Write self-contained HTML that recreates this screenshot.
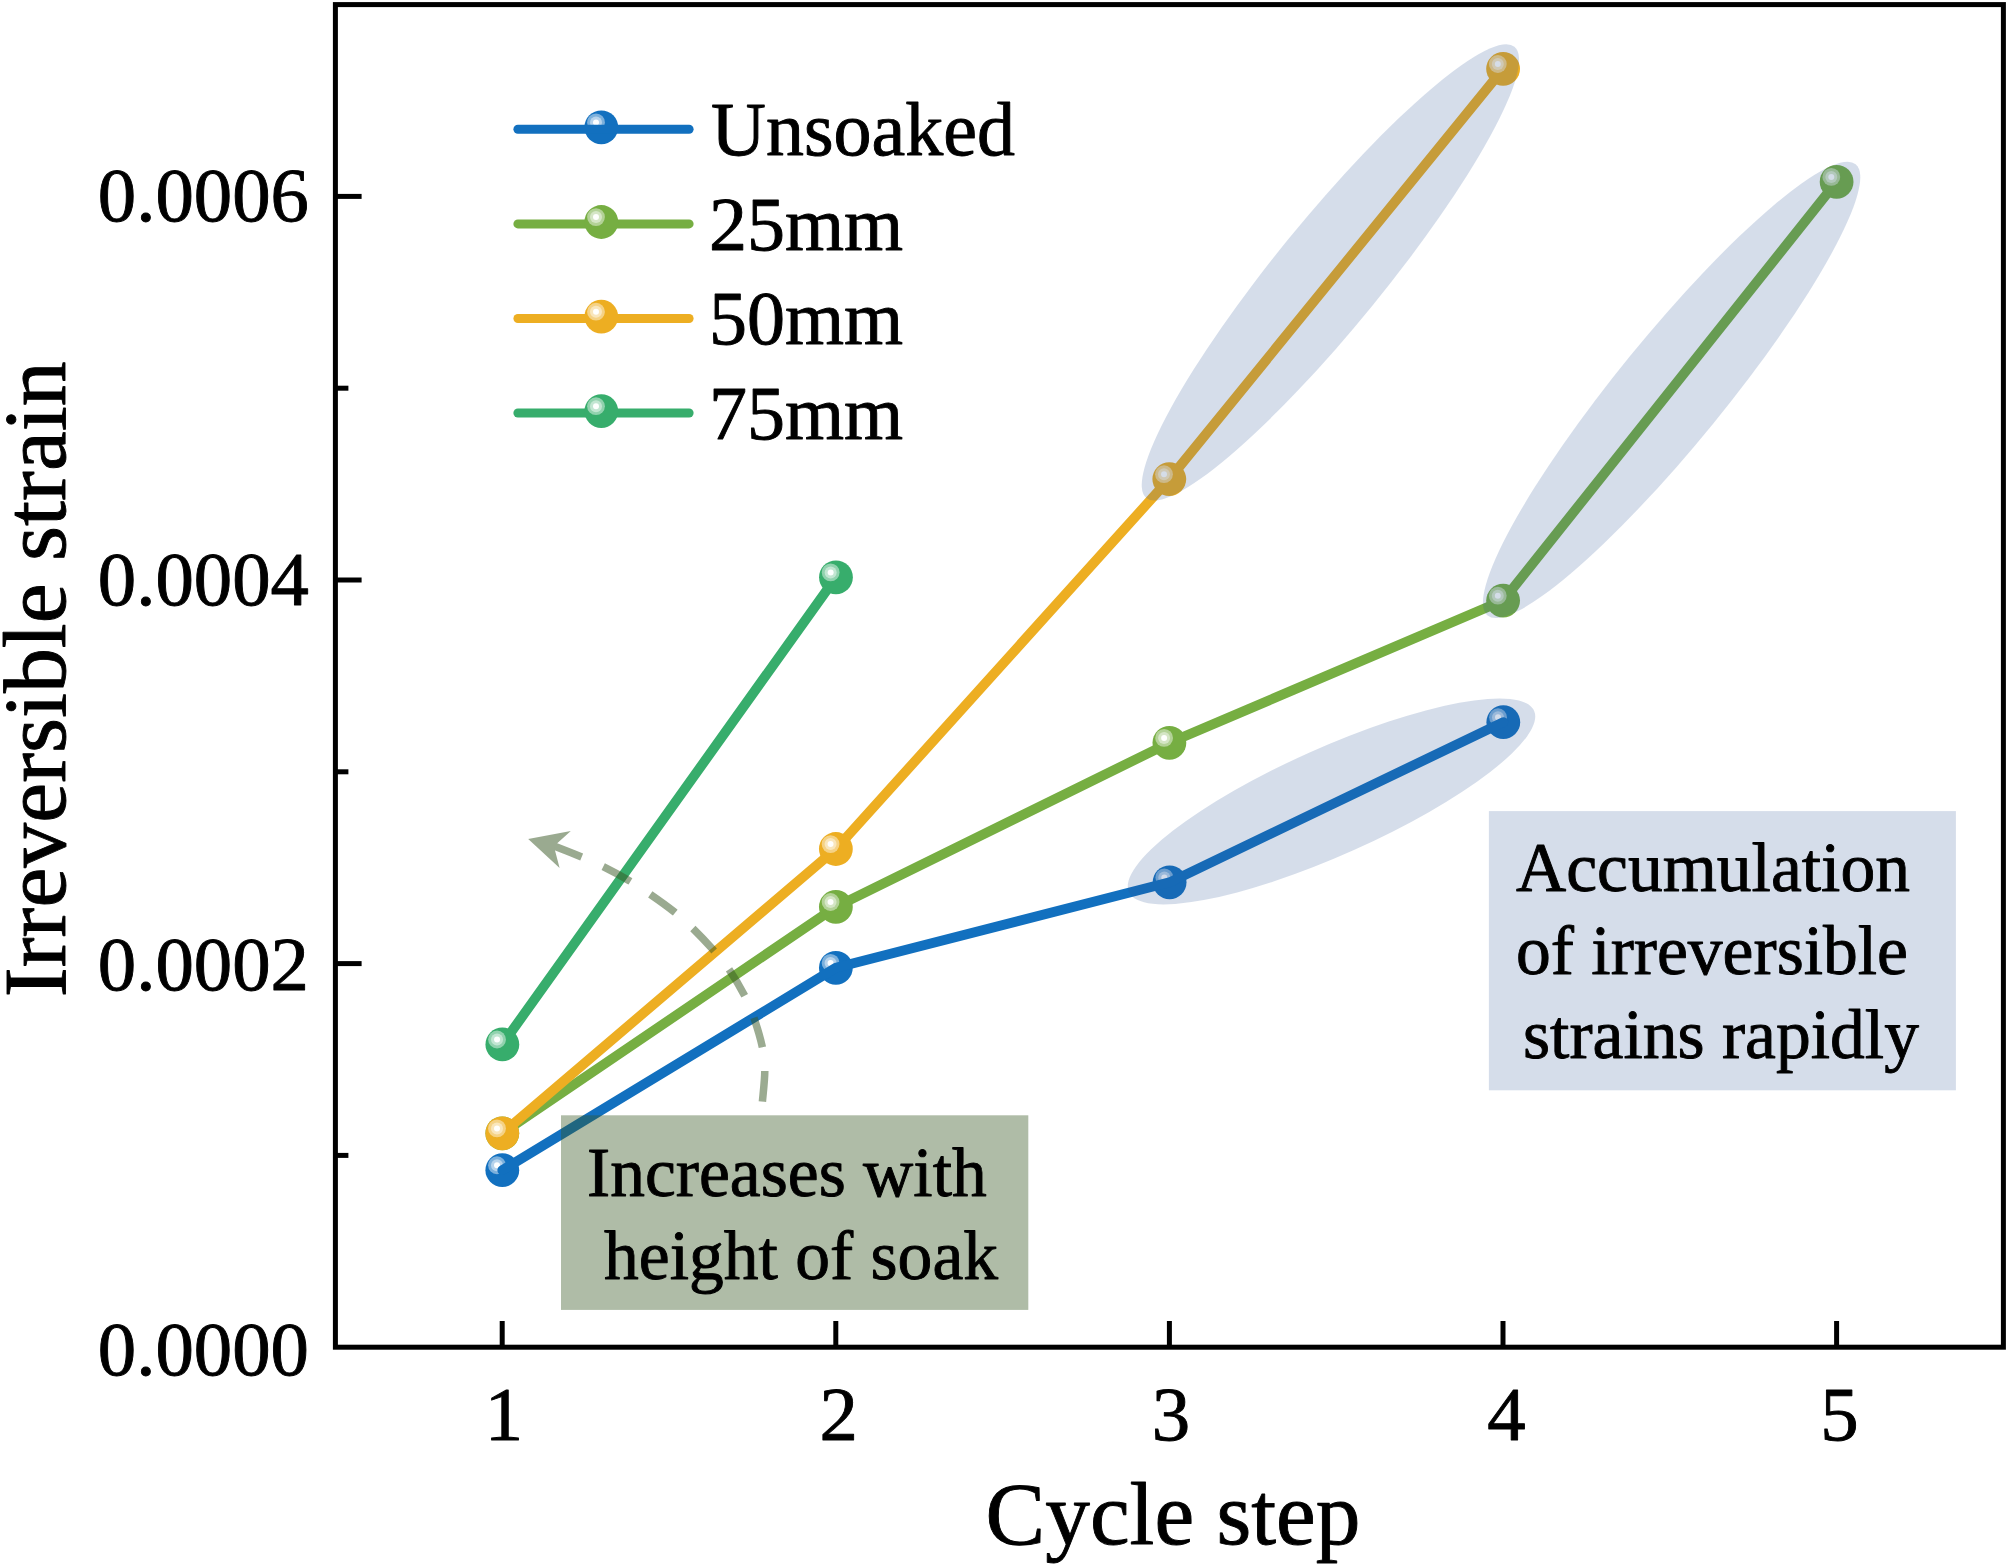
<!DOCTYPE html>
<html lang="en"><head><meta charset="utf-8"><title>Irreversible strain vs cycle step</title>
<style>html,body{margin:0;padding:0;background:#fff;}body{width:2008px;height:1565px;overflow:hidden;}svg{display:block;}text{font-family:"Liberation Serif", serif;fill:#000;stroke:#000;stroke-width:0.9px;stroke-linejoin:round;}</style></head><body>
<svg width="2008" height="1565" viewBox="0 0 2008 1565">
<rect x="0" y="0" width="2008" height="1565" fill="#fff"/>
<g id="series">
<circle cx="502.3" cy="1170.15" r="16.9" fill="#1270bf"/><circle cx="497" cy="1165.25" r="8.9" fill="#fff" fill-opacity="0.45"/><circle cx="497" cy="1165.25" r="6" fill="#fff" fill-opacity="0.45"/><circle cx="497" cy="1165.25" r="3" fill="#fff" fill-opacity="0.97"/>
<circle cx="835.87" cy="967.8" r="16.9" fill="#1270bf"/><circle cx="830.57" cy="962.9" r="8.9" fill="#fff" fill-opacity="0.45"/><circle cx="830.57" cy="962.9" r="6" fill="#fff" fill-opacity="0.45"/><circle cx="830.57" cy="962.9" r="3" fill="#fff" fill-opacity="0.97"/>
<circle cx="1169.6" cy="882.3" r="16.9" fill="#1270bf"/><circle cx="1164.3" cy="877.4" r="8.9" fill="#fff" fill-opacity="0.45"/><circle cx="1164.3" cy="877.4" r="6" fill="#fff" fill-opacity="0.45"/><circle cx="1164.3" cy="877.4" r="3" fill="#fff" fill-opacity="0.97"/>
<circle cx="1503.3" cy="722.15" r="16.9" fill="#1270bf"/><circle cx="1498" cy="717.25" r="8.9" fill="#fff" fill-opacity="0.45"/><circle cx="1498" cy="717.25" r="6" fill="#fff" fill-opacity="0.45"/><circle cx="1498" cy="717.25" r="3" fill="#fff" fill-opacity="0.97"/>
<polyline points="502.3,1170.15 835.87,967.8 1169.6,882.3 1503.3,722.15" fill="none" stroke="#1270bf" stroke-width="9.8" stroke-linecap="round" stroke-linejoin="round"/>
<polyline points="502.3,1133.3 835.87,906.9 1169.4,742.8 1503.1,600.6 1836.6,181.8" fill="none" stroke="#76ae42" stroke-width="9.8" stroke-linecap="round" stroke-linejoin="round"/>
<circle cx="502.3" cy="1133.3" r="16.9" fill="#76ae42"/><circle cx="497" cy="1128.4" r="8.9" fill="#fff" fill-opacity="0.45"/><circle cx="497" cy="1128.4" r="6" fill="#fff" fill-opacity="0.45"/><circle cx="497" cy="1128.4" r="3" fill="#fff" fill-opacity="0.97"/>
<circle cx="835.87" cy="906.9" r="16.9" fill="#76ae42"/><circle cx="830.57" cy="902" r="8.9" fill="#fff" fill-opacity="0.45"/><circle cx="830.57" cy="902" r="6" fill="#fff" fill-opacity="0.45"/><circle cx="830.57" cy="902" r="3" fill="#fff" fill-opacity="0.97"/>
<circle cx="1169.4" cy="742.8" r="16.9" fill="#76ae42"/><circle cx="1164.1" cy="737.9" r="8.9" fill="#fff" fill-opacity="0.45"/><circle cx="1164.1" cy="737.9" r="6" fill="#fff" fill-opacity="0.45"/><circle cx="1164.1" cy="737.9" r="3" fill="#fff" fill-opacity="0.97"/>
<circle cx="1503.1" cy="600.6" r="16.9" fill="#76ae42"/><circle cx="1497.8" cy="595.7" r="8.9" fill="#fff" fill-opacity="0.45"/><circle cx="1497.8" cy="595.7" r="6" fill="#fff" fill-opacity="0.45"/><circle cx="1497.8" cy="595.7" r="3" fill="#fff" fill-opacity="0.97"/>
<circle cx="1836.6" cy="181.8" r="16.9" fill="#76ae42"/><circle cx="1831.3" cy="176.9" r="8.9" fill="#fff" fill-opacity="0.45"/><circle cx="1831.3" cy="176.9" r="6" fill="#fff" fill-opacity="0.45"/><circle cx="1831.3" cy="176.9" r="3" fill="#fff" fill-opacity="0.97"/>
<polyline points="502.3,1133.3 835.87,849 1169.3,479.1 1503.1,68.9" fill="none" stroke="#edae22" stroke-width="9.8" stroke-linecap="round" stroke-linejoin="round"/>
<circle cx="502.3" cy="1133.3" r="16.9" fill="#edae22"/><circle cx="497" cy="1128.4" r="8.9" fill="#fff" fill-opacity="0.45"/><circle cx="497" cy="1128.4" r="6" fill="#fff" fill-opacity="0.45"/><circle cx="497" cy="1128.4" r="3" fill="#fff" fill-opacity="0.97"/>
<circle cx="835.87" cy="849" r="16.9" fill="#edae22"/><circle cx="830.57" cy="844.1" r="8.9" fill="#fff" fill-opacity="0.45"/><circle cx="830.57" cy="844.1" r="6" fill="#fff" fill-opacity="0.45"/><circle cx="830.57" cy="844.1" r="3" fill="#fff" fill-opacity="0.97"/>
<circle cx="1169.3" cy="479.1" r="16.9" fill="#edae22"/><circle cx="1164" cy="474.2" r="8.9" fill="#fff" fill-opacity="0.45"/><circle cx="1164" cy="474.2" r="6" fill="#fff" fill-opacity="0.45"/><circle cx="1164" cy="474.2" r="3" fill="#fff" fill-opacity="0.97"/>
<circle cx="1503.1" cy="68.9" r="16.9" fill="#edae22"/><circle cx="1497.8" cy="64" r="8.9" fill="#fff" fill-opacity="0.45"/><circle cx="1497.8" cy="64" r="6" fill="#fff" fill-opacity="0.45"/><circle cx="1497.8" cy="64" r="3" fill="#fff" fill-opacity="0.97"/>
<polyline points="502.35,1044.4 835.96,577.3" fill="none" stroke="#37ad6c" stroke-width="9.8" stroke-linecap="round" stroke-linejoin="round"/>
<circle cx="502.35" cy="1044.4" r="16.9" fill="#37ad6c"/><circle cx="497.05" cy="1039.5" r="8.9" fill="#fff" fill-opacity="0.45"/><circle cx="497.05" cy="1039.5" r="6" fill="#fff" fill-opacity="0.45"/><circle cx="497.05" cy="1039.5" r="3" fill="#fff" fill-opacity="0.97"/>
<circle cx="835.96" cy="577.3" r="16.9" fill="#37ad6c"/><circle cx="830.66" cy="572.4" r="8.9" fill="#fff" fill-opacity="0.45"/><circle cx="830.66" cy="572.4" r="6" fill="#fff" fill-opacity="0.45"/><circle cx="830.66" cy="572.4" r="3" fill="#fff" fill-opacity="0.97"/>
</g>
<g id="ellipses">
<ellipse cx="0" cy="0" rx="291.2" ry="53.6" transform="translate(1330.4 272.4) rotate(-50.8)" fill="#2f5597" fill-opacity="0.2"/>
<ellipse cx="0" cy="0" rx="291.2" ry="53.6" transform="translate(1671.6 389.9) rotate(-50.8)" fill="#2f5597" fill-opacity="0.2"/>
<ellipse cx="0" cy="0" rx="221.9" ry="53.6" transform="translate(1331.5 801.4) rotate(-24.1)" fill="#2f5597" fill-opacity="0.2"/>
</g>
<rect x="1488.9" y="811.1" width="467" height="279.2" fill="#2f5597" fill-opacity="0.2"/>
<rect x="561" y="1115.3" width="467.3" height="194.6" fill="#385723" fill-opacity="0.4"/>
<g id="arrow" opacity="0.5">
<path d="M762.4,1101.6 C762.8,1096.5 764.8,1080.03 764.8,1071 C764.8,1061.97 764.27,1056.43 762.4,1047.4 C760.53,1038.37 756.6,1025.48 753.6,1016.8 C750.6,1008.12 748.57,1003.32 744.4,995.3 C740.23,987.28 733.88,976.37 728.6,968.7 C723.32,961.03 718.77,956.12 712.7,949.3 C706.63,942.48 698.68,934.1 692.2,927.8 C685.72,921.5 680.95,917.18 673.8,911.5 C666.65,905.82 656.8,898.88 649.3,893.7 C641.8,888.52 636.75,885.05 628.8,880.4 C620.85,875.75 609.77,869.83 601.6,865.8 C593.43,861.77 588.1,859.65 579.8,856.2 C571.5,852.75 556.47,846.95 551.8,845.1" fill="none" stroke="#385723" stroke-width="7.5" stroke-dasharray="30.7 23.9"/>
<path d="M528.2,838.9 L570.8,831 L553.9,846.3 L559.6,868 Z" fill="#385723"/>
</g>
<g font-size="69.55">
<text x="1516" y="890.5">Accumulation</text>
<text x="1516" y="974.3">of irreversible</text>
<text x="1523" y="1058.4">strains rapidly</text>
<text x="587" y="1195.7">Increases with</text>
<text x="604" y="1278.9">height of soak</text>
</g>
<g id="legend" font-size="76">
<circle cx="601.3" cy="127.3" r="16.9" fill="#1270bf"/><circle cx="596" cy="122.4" r="8.9" fill="#fff" fill-opacity="0.45"/><circle cx="596" cy="122.4" r="6" fill="#fff" fill-opacity="0.45"/><circle cx="596" cy="122.4" r="3" fill="#fff" fill-opacity="0.97"/>
<line x1="517.9" y1="129.2" x2="689.1" y2="129.2" stroke="#1270bf" stroke-width="9" stroke-linecap="round"/>
<text x="711" y="155">Unsoaked</text>
<line x1="517.9" y1="223.9" x2="689.1" y2="223.9" stroke="#76ae42" stroke-width="9" stroke-linecap="round"/>
<circle cx="601.3" cy="222" r="16.9" fill="#76ae42"/><circle cx="596" cy="217.1" r="8.9" fill="#fff" fill-opacity="0.45"/><circle cx="596" cy="217.1" r="6" fill="#fff" fill-opacity="0.45"/><circle cx="596" cy="217.1" r="3" fill="#fff" fill-opacity="0.97"/>
<text x="709" y="249.7">25mm</text>
<line x1="517.9" y1="318.5" x2="689.1" y2="318.5" stroke="#edae22" stroke-width="9" stroke-linecap="round"/>
<circle cx="601.3" cy="316.6" r="16.9" fill="#edae22"/><circle cx="596" cy="311.7" r="8.9" fill="#fff" fill-opacity="0.45"/><circle cx="596" cy="311.7" r="6" fill="#fff" fill-opacity="0.45"/><circle cx="596" cy="311.7" r="3" fill="#fff" fill-opacity="0.97"/>
<text x="709" y="344.3">50mm</text>
<line x1="517.9" y1="413" x2="689.1" y2="413" stroke="#37ad6c" stroke-width="9" stroke-linecap="round"/>
<circle cx="601.3" cy="411.1" r="16.9" fill="#37ad6c"/><circle cx="596" cy="406.2" r="8.9" fill="#fff" fill-opacity="0.45"/><circle cx="596" cy="406.2" r="6" fill="#fff" fill-opacity="0.45"/><circle cx="596" cy="406.2" r="3" fill="#fff" fill-opacity="0.97"/>
<text x="709" y="438.8">75mm</text>
</g>
<g id="axes" stroke="#000" stroke-width="5" fill="none" stroke-linecap="butt">
<rect x="335.4" y="4.6" width="1668" height="1342.6"/>
<line x1="502.2" y1="1347.2" x2="502.2" y2="1321"/>
<line x1="835.8" y1="1347.2" x2="835.8" y2="1321"/>
<line x1="1169.4" y1="1347.2" x2="1169.4" y2="1321"/>
<line x1="1503" y1="1347.2" x2="1503" y2="1321"/>
<line x1="1836.6" y1="1347.2" x2="1836.6" y2="1321"/>
<line x1="335.4" y1="1155.4" x2="348.4" y2="1155.4"/>
<line x1="335.4" y1="963.6" x2="361.6" y2="963.6"/>
<line x1="335.4" y1="771.8" x2="348.4" y2="771.8"/>
<line x1="335.4" y1="580" x2="361.6" y2="580"/>
<line x1="335.4" y1="388.2" x2="348.4" y2="388.2"/>
<line x1="335.4" y1="196.4" x2="361.6" y2="196.4"/>
</g>
<g id="ticklabels" font-size="76.8">
<text x="504" y="1439.8" text-anchor="middle">1</text>
<text x="838.6" y="1439.8" text-anchor="middle">2</text>
<text x="1170.9" y="1439.8" text-anchor="middle">3</text>
<text x="1506.4" y="1439.8" text-anchor="middle">4</text>
<text x="1839.5" y="1439.8" text-anchor="middle">5</text>
<text x="309" y="1374.8" text-anchor="end">0.0000</text>
<text x="309" y="990.2" text-anchor="end">0.0002</text>
<text x="309" y="605.2" text-anchor="end">0.0004</text>
<text x="309" y="220.8" text-anchor="end">0.0006</text>
</g>
<text x="1173" y="1544" font-size="89.4" text-anchor="middle">Cycle step</text>
<text transform="translate(65.2 679.3) rotate(-90)" font-size="89.8" text-anchor="middle">Irreversible strain</text>
</svg></body></html>
